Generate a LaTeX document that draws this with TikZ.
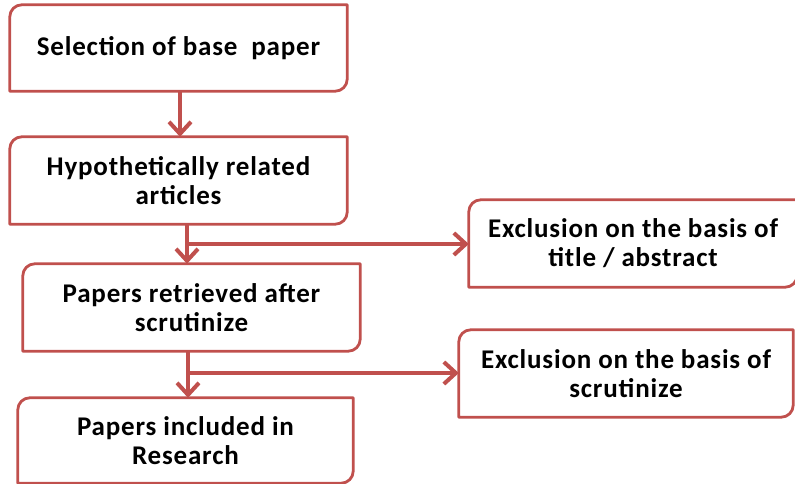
\documentclass[tikz,border=0pt]{standalone}
\usepackage{fontspec}
\setmainfont{Carlito}
\usetikzlibrary{arrows.meta}
\definecolor{boxred}{HTML}{C0504D}

% outline with rounded top-left and bottom-right corners
\newcommand\flowoutline[1]{%
  \draw[boxline] (#1.south west) -- ([yshift=-12pt]#1.north west)
    arc[start angle=180,end angle=90,radius=12pt] -- (#1.north east)
    -- ([yshift=12pt]#1.south east)
    arc[start angle=0,end angle=-90,radius=12pt] -- cycle;}

\tikzset{
  stage/.style 2 args={rectangle, draw=none, inner sep=0pt,
    minimum width=#1, minimum height=#2, align=center,
    font=\fontsize{27}{29}\selectfont\bfseries\addfontfeatures{LetterSpace=3}},
  boxline/.style={draw=boxred, line width=2.8pt, line join=round},
  flow/.style={draw=boxred, line width=4pt,
    -{Straight Barb[length=12pt,width=22pt]}},
}

\begin{document}
\begin{tikzpicture}[x=1pt,y=1pt]
  \useasboundingbox (0,0) rectangle (795,484);

  \node[stage={337pt}{86pt}] (b1) at (178.5,436) {Selection of base\ \ paper};
  \node[stage={337pt}{87pt}] (b2) at (178.5,303.5) {Hypothetically related\\articles};
  \node[stage={337pt}{87pt}] (b3) at (191.5,176.5) {Papers retrieved after\\scrutinize};
  \node[stage={335pt}{85pt}] (b6) at (185.5,43.5) {Papers included in\\Research};
  \node[stage={328pt}{87pt}] (b4) at (633,240.5) {Exclusion on the basis of\\title / abstract};
  \node[stage={334pt}{87pt}] (b5) at (626,110.5) {Exclusion on the basis of\\scrutinize};

  \foreach \n in {b1,b2,b3,b4,b5,b6} {\flowoutline{\n}}

  \coordinate (s1) at (180,0);
  \coordinate (j1) at (187,240);
  \coordinate (j2) at (188,111);

  \draw[flow] (b1.south -| s1) -- (b2.north -| s1);
  \draw[flow] (b2.south -| j1) -- (b3.north -| j1);
  \draw[flow] (j1) -- (j1 -| b4.west);
  \draw[flow] (b3.south -| j2) -- (b6.north -| j2);
  \draw[flow] (j2) -- (j2 -| b5.west);
\end{tikzpicture}
\end{document}
